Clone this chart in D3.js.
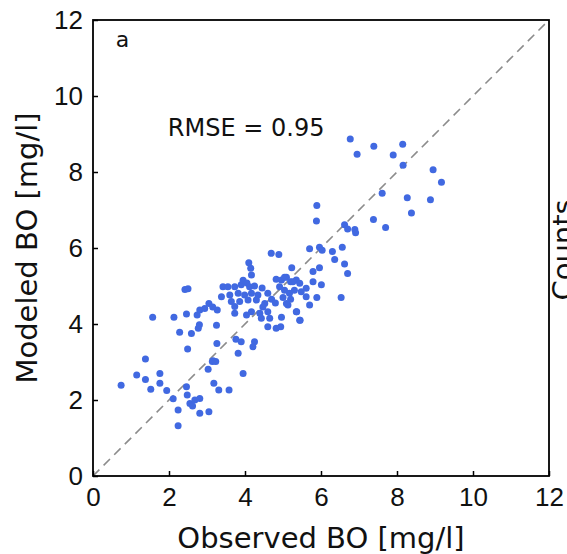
<!DOCTYPE html>
<html>
<head>
<meta charset="utf-8">
<script src="https://cdn.jsdelivr.net/npm/d3@7"></script>
<style>
  body { margin: 0; background: #fff; }
  svg { display: block; font-family: "DejaVu Sans", sans-serif; }
  .tick line { stroke: #000; stroke-width: 1.5; }
  .tick text { font-size: 26px; fill: #111; }
</style>
</head>
<body>
<svg id="chart" width="567" height="554"></svg>
<script>
// observed vs modeled BO
const observed = [
  6.77, 7.39, 8.15, 6.95, 7.90, 8.16, 8.95, 9.17, 7.61, 8.27, 8.88, 5.89, 8.38, 5.88, 7.38,
  6.62, 6.70, 6.89, 6.91, 7.70, 5.70, 5.96, 6.03, 6.30, 6.56, 6.36, 6.62, 6.70, 5.96, 5.79,
  5.23, 6.01, 5.79, 6.53, 5.89, 5.70, 5.61, 5.13, 5.36, 5.45, 4.94,
  4.69, 4.89, 4.10, 4.15, 4.17, 4.82, 4.96, 5.09, 5.20, 5.35, 5.44, 4.91, 5.04, 5.30, 5.17,
  3.42, 3.55, 3.73, 3.90, 4.12, 3.38, 3.60, 3.82, 3.99, 4.17, 4.34, 4.60, 3.64, 3.86, 4.08,
  4.30, 4.52, 3.73, 3.27, 4.17, 4.39, 4.60, 5.09, 5.35, 4.43, 4.65, 4.96, 5.44, 3.25, 4.60,
  4.82, 5.61, 5.48, 3.95, 4.05, 4.25, 4.45, 4.70, 4.80, 4.47, 5.00, 5.20, 5.04, 5.26,
  2.42, 2.50, 1.57, 2.13, 2.46, 2.74, 2.81, 2.94, 3.05, 3.15, 2.28, 2.59, 2.77, 2.80, 2.49,
  3.26, 1.38, 3.16, 3.03, 1.15, 1.76, 0.74, 1.38, 1.76, 1.52, 1.94, 3.18, 2.46, 2.48, 2.11,
  2.55, 2.68, 2.81, 2.62, 2.81, 3.05, 2.24, 2.24, 3.76, 3.90, 4.25, 4.21, 3.82, 3.14, 3.23,
  3.95, 3.31, 3.58, 3.73, 4.04
];
const modeled = [
  8.87, 8.68, 8.73, 8.47, 8.45, 8.18, 8.06, 7.73, 7.44, 7.32, 7.27, 7.12, 6.92, 6.71, 6.75,
  6.61, 6.50, 6.49, 6.40, 6.54, 5.98, 6.02, 5.94, 5.91, 6.02, 5.70, 5.58, 5.33, 5.48, 5.38,
  5.48, 5.03, 5.11, 4.70, 4.70, 4.50, 4.72, 4.50, 4.32, 4.10, 3.93,
  5.86, 5.83, 5.61, 5.47, 5.29, 5.18, 5.16, 5.23, 5.11, 5.16, 5.07, 4.98, 4.89, 4.89, 4.81,
  4.98, 4.98, 4.98, 5.03, 4.98, 4.72, 4.76, 4.81, 4.76, 4.81, 4.76, 4.81, 4.59, 4.59, 4.63,
  4.63, 4.54, 4.46, 4.37, 4.32, 4.28, 4.32, 4.54, 4.32, 4.15, 4.15, 4.18, 4.10, 3.97, 3.93,
  3.89, 4.94, 4.85, 5.15, 5.08, 5.00, 4.95, 4.65, 4.55, 4.45, 4.70, 4.65, 5.23, 5.11,
  4.91, 4.93, 4.18, 4.18, 4.26, 4.24, 4.37, 4.41, 4.54, 4.45, 3.78, 3.75, 3.89, 3.98, 3.34,
  3.49, 3.08, 3.03, 2.81, 2.66, 2.70, 2.39, 2.54, 2.44, 2.28, 2.25, 2.44, 2.35, 2.13, 2.03,
  1.91, 2.00, 2.04, 1.84, 1.65, 1.69, 1.74, 1.32, 3.60, 3.53, 3.53, 3.40, 3.23, 3.01, 3.01,
  2.70, 2.26, 2.26, 4.28, 4.24
];
const axisTicks = [0, 2, 4, 6, 8, 10, 12];
const rmseText = 'RMSE = 0.95';

const svg = d3.select('#chart');
const x = d3.scaleLinear().domain([0, 12]).range([93, 549]);
const y = d3.scaleLinear().domain([0, 12]).range([476, 20]);

// 1:1 line
svg.append('line')
  .attr('x1', x(0)).attr('y1', y(0)).attr('x2', x(12)).attr('y2', y(12))
  .attr('stroke', '#8c8c8c').attr('stroke-width', 1.6).attr('stroke-dasharray', '9,6');

// points
svg.append('g').selectAll('circle').data(observed.map((o, i) => [o, modeled[i]]))
  .enter().append('circle')
  .attr('cx', d => x(d[0])).attr('cy', d => y(d[1])).attr('r', 3.5)
  .attr('fill', '#4169e1');

// axes, ticks point inward
svg.append('g').attr('transform', `translate(0,${y(0)})`)
  .call(d3.axisBottom(x).tickValues(axisTicks).tickSize(-5).tickPadding(12))
  .call(g => g.select('.domain').remove());
svg.append('g').attr('transform', `translate(${x(0)},0)`)
  .call(d3.axisLeft(y).tickValues(axisTicks).tickSize(-5).tickPadding(10))
  .call(g => g.select('.domain').remove());

// frame
svg.append('rect')
  .attr('x', x(0)).attr('y', y(12)).attr('width', x(12) - x(0)).attr('height', y(0) - y(12))
  .attr('fill', 'none').attr('stroke', '#000').attr('stroke-width', 1.8);

svg.append('text').attr('x', x(0.6)).attr('y', y(11.3))
  .attr('font-size', 22).attr('fill', '#111').text('a');
svg.append('text').attr('x', x(1.97)).attr('y', y(8.95))
  .attr('font-size', 24).attr('fill', '#111').text(rmseText);

// axis labels
svg.append('text').attr('x', (x(0) + x(12)) / 2).attr('y', 548)
  .attr('text-anchor', 'middle').attr('font-size', 29).attr('fill', '#111')
  .text('Observed BO [mg/l]');
svg.append('text').attr('transform', `translate(37,${(y(0) + y(12)) / 2}) rotate(-90)`)
  .attr('text-anchor', 'middle').attr('font-size', 29).attr('fill', '#111')
  .text('Modeled BO [mg/l]');

// label of the neighbouring panel, cut by the edge
svg.append('text').attr('transform', `translate(573,250) rotate(-90)`)
  .attr('text-anchor', 'middle').attr('font-size', 29).attr('fill', '#111')
  .text('Counts');
</script>
</body>
</html>
